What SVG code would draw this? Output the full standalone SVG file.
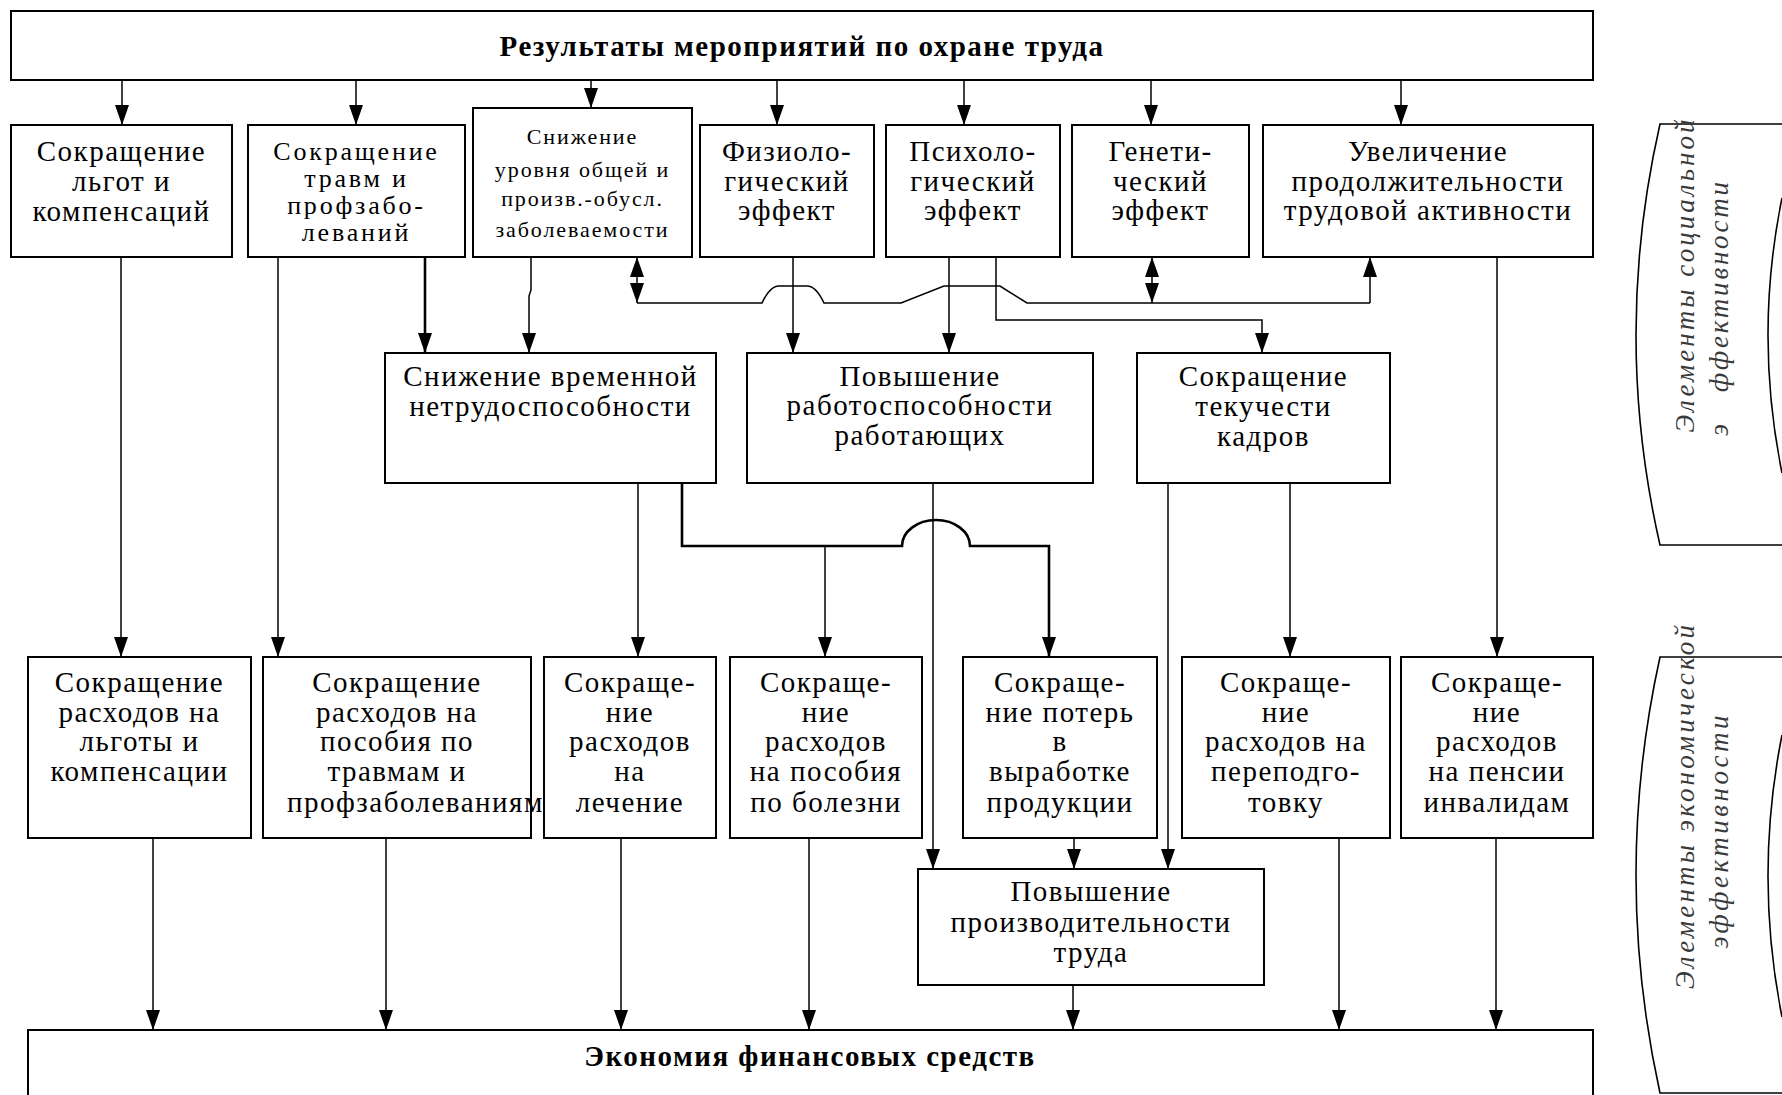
<svg xmlns="http://www.w3.org/2000/svg" width="1782" height="1095" viewBox="0 0 1782 1095">
<style>
.box{fill:#fff;stroke:#000;stroke-width:2}
.t{font-family:"Liberation Serif","Times New Roman",serif;font-size:29px;letter-spacing:1.5px;text-anchor:middle;fill:#000}
.ts{font-size:22px;letter-spacing:1.9px}
.tm{font-size:26px;letter-spacing:2.8px}
.b{font-weight:bold}
.c{fill:none;stroke:#000;stroke-width:1.5}
.k{stroke-width:2.6}
.br{fill:none;stroke:#000;stroke-width:1.6}
.it{font-family:"Liberation Serif","Times New Roman",serif;font-style:italic;font-size:27px;fill:#3a3a3a;text-anchor:middle}
</style>
<defs>
<marker id="ah" viewBox="0 0 20 14" refX="20" refY="7" markerWidth="20" markerHeight="14" markerUnits="userSpaceOnUse" orient="auto-start-reverse"><path d="M0,0 L20,7 L0,14 z" fill="#000"/></marker>
</defs>

<g id="connectors">
<g class="c" marker-end="url(#ah)">
<path d="M122,80 V125"/><path d="M356,80 V125"/><path d="M591,80 V108"/><path d="M777,80 V125"/><path d="M964,80 V125"/><path d="M1151,80 V125"/><path d="M1401,80 V125"/>
<path d="M121,257 V657"/>
<path d="M278,257 V657"/>
<path class="c k" d="M425,257 V353"/>
<path d="M531,257 V290 L529,296 V353"/>
<path d="M793,257 V353"/>
<path d="M949,257 V353"/>
<path d="M996,257 V320 H1262 V353"/>
<path d="M1370,303 V257"/>
<path d="M638,483 V657"/>
<path class="c k" d="M682,483 V546 H902 A34,26 0 0 1 970,546 H1049 V657"/>
<path d="M825,546 V657"/>
<path d="M933,483 V869"/>
<path d="M1168,483 V869"/>
<path d="M1290,483 V657"/>
<path d="M1497,257 V657"/>
<path d="M1074,838 V869"/>
<path d="M153,838 V1030"/><path d="M386,838 V1030"/><path d="M621,838 V1030"/><path d="M809,838 V1030"/><path d="M1073,985 V1030"/><path d="M1339,838 V1030"/><path d="M1496,838 V1030"/>
</g>
<path class="c" d="M637,303 H762 Q770,286 779,286 H807 Q816,286 824,303 H901 L944,286 H1000 L1027,303 H1370"/>
<path class="c" d="M637,303 V257" marker-start="url(#ah)" marker-end="url(#ah)"/>
<path class="c" d="M1152,303 V257" marker-start="url(#ah)" marker-end="url(#ah)"/>
</g>

<g id="n-top"><rect class="box" x="11" y="11" width="1582" height="69"/><text class="t b" x="802" y="56">Результаты мероприятий по охране труда</text></g>

<g id="n1"><rect class="box" x="11" y="125" width="221" height="132"/><text class="t" x="121.5"><tspan x="121.5" y="161">Сокращение</tspan><tspan x="121.5" y="191">льгот и</tspan><tspan x="121.5" y="221">компенсаций</tspan></text></g>
<g id="n2"><rect class="box" x="248" y="125" width="217" height="132"/><text class="t tm" x="356.5"><tspan x="356.5" y="160">Сокращение</tspan><tspan x="356.5" y="187">травм и</tspan><tspan x="356.5" y="214">профзабо-</tspan><tspan x="356.5" y="241">леваний</tspan></text></g>
<g id="n3"><rect class="box" x="473" y="108" width="219" height="149"/><text class="t ts" x="582.5"><tspan x="582.5" y="144">Снижение</tspan><tspan x="582.5" y="177">уровня общей и</tspan><tspan x="582.5" y="206">произв.-обусл.</tspan><tspan x="582.5" y="237">заболеваемости</tspan></text></g>
<g id="n4"><rect class="box" x="700" y="125" width="174" height="132"/><text class="t" x="787"><tspan x="787" y="161">Физиоло-</tspan><tspan x="787" y="191">гический</tspan><tspan x="787" y="220">эффект</tspan></text></g>
<g id="n5"><rect class="box" x="886" y="125" width="174" height="132"/><text class="t" x="973"><tspan x="973" y="161">Психоло-</tspan><tspan x="973" y="191">гический</tspan><tspan x="973" y="220">эффект</tspan></text></g>
<g id="n6"><rect class="box" x="1072" y="125" width="177" height="132"/><text class="t" x="1160.5"><tspan x="1160.5" y="161">Генети-</tspan><tspan x="1160.5" y="191">ческий</tspan><tspan x="1160.5" y="220">эффект</tspan></text></g>
<g id="n7"><rect class="box" x="1263" y="125" width="330" height="132"/><text class="t" x="1428"><tspan x="1428" y="161">Увеличение</tspan><tspan x="1428" y="191">продолжительности</tspan><tspan x="1428" y="220">трудовой активности</tspan></text></g>

<g id="mA"><rect class="box" x="385" y="353" width="331" height="130"/><text class="t" x="550.5"><tspan x="550.5" y="386">Снижение временной</tspan><tspan x="550.5" y="416">нетрудоспособности</tspan></text></g>
<g id="mB"><rect class="box" x="747" y="353" width="346" height="130"/><text class="t" x="920"><tspan x="920" y="386">Повышение</tspan><tspan x="920" y="415">работоспособности</tspan><tspan x="920" y="445">работающих</tspan></text></g>
<g id="mC"><rect class="box" x="1137" y="353" width="253" height="130"/><text class="t" x="1263.5"><tspan x="1263.5" y="386">Сокращение</tspan><tspan x="1263.5" y="416">текучести</tspan><tspan x="1263.5" y="446">кадров</tspan></text></g>

<g id="b1"><rect class="box" x="28" y="657" width="223" height="181"/><text class="t" x="139.5"><tspan x="139.5" y="692">Сокращение</tspan><tspan x="139.5" y="722">расходов на</tspan><tspan x="139.5" y="751">льготы и</tspan><tspan x="139.5" y="781">компенсации</tspan></text></g>
<g id="b2"><rect class="box" x="263" y="657" width="268" height="181"/><text class="t" x="397"><tspan x="397" y="692">Сокращение</tspan><tspan x="397" y="722">расходов на</tspan><tspan x="397" y="751">пособия по</tspan><tspan x="397" y="781">травмам и</tspan></text><text class="t" x="287" y="812" style="text-anchor:start">профзаболеваниям</text></g>
<g id="b3"><rect class="box" x="544" y="657" width="172" height="181"/><text class="t" x="630"><tspan x="630" y="692">Сокраще-</tspan><tspan x="630" y="722">ние</tspan><tspan x="630" y="751">расходов</tspan><tspan x="630" y="781">на</tspan><tspan x="630" y="812">лечение</tspan></text></g>
<g id="b4"><rect class="box" x="730" y="657" width="192" height="181"/><text class="t" x="826"><tspan x="826" y="692">Сокраще-</tspan><tspan x="826" y="722">ние</tspan><tspan x="826" y="751">расходов</tspan><tspan x="826" y="781">на пособия</tspan><tspan x="826" y="812">по болезни</tspan></text></g>
<g id="b5"><rect class="box" x="963" y="657" width="194" height="181"/><text class="t" x="1060"><tspan x="1060" y="692">Сокраще-</tspan><tspan x="1060" y="722">ние потерь</tspan><tspan x="1060" y="751">в</tspan><tspan x="1060" y="781">выработке</tspan><tspan x="1060" y="812">продукции</tspan></text></g>
<g id="b6"><rect class="box" x="1182" y="657" width="208" height="181"/><text class="t" x="1286"><tspan x="1286" y="692">Сокраще-</tspan><tspan x="1286" y="722">ние</tspan><tspan x="1286" y="751">расходов на</tspan><tspan x="1286" y="781">переподго-</tspan><tspan x="1286" y="812">товку</tspan></text></g>
<g id="b7"><rect class="box" x="1401" y="657" width="192" height="181"/><text class="t" x="1497"><tspan x="1497" y="692">Сокраще-</tspan><tspan x="1497" y="722">ние</tspan><tspan x="1497" y="751">расходов</tspan><tspan x="1497" y="781">на пенсии</tspan><tspan x="1497" y="812">инвалидам</tspan></text></g>

<g id="prod"><rect class="box" x="918" y="869" width="346" height="116"/><text class="t" x="1091"><tspan x="1091" y="901">Повышение</tspan><tspan x="1091" y="932">производительности</tspan><tspan x="1091" y="962">труда</tspan></text></g>

<g id="econ"><rect class="box" x="28" y="1030" width="1565" height="90"/><text class="t b" x="810" y="1066">Экономия финансовых средств</text></g>

<g id="social">
<path class="br" d="M1782,124 H1660 Q1612,335 1660,545 H1782"/>
<path class="br" d="M1782,198 Q1754,335 1782,473"/>
<text class="it" transform="translate(1694,276) rotate(-90)" textLength="313" lengthAdjust="spacing">Элементы социальной</text>
<text class="it" transform="translate(1728,430) rotate(-90)">э</text>
<text class="it" transform="translate(1728,287) rotate(-90)" textLength="210" lengthAdjust="spacing">ффективности</text>
</g>
<g id="economic">
<path class="br" d="M1782,657 H1660 Q1612,875 1660,1093 H1782"/>
<path class="br" d="M1782,735 Q1754,876 1782,1017"/>
<text class="it" transform="translate(1694,807) rotate(-90)" textLength="364" lengthAdjust="spacing">Элементы  экономической</text>
<text class="it" transform="translate(1728,832) rotate(-90)" textLength="233" lengthAdjust="spacing">эффективности</text>
</g>
</svg>
